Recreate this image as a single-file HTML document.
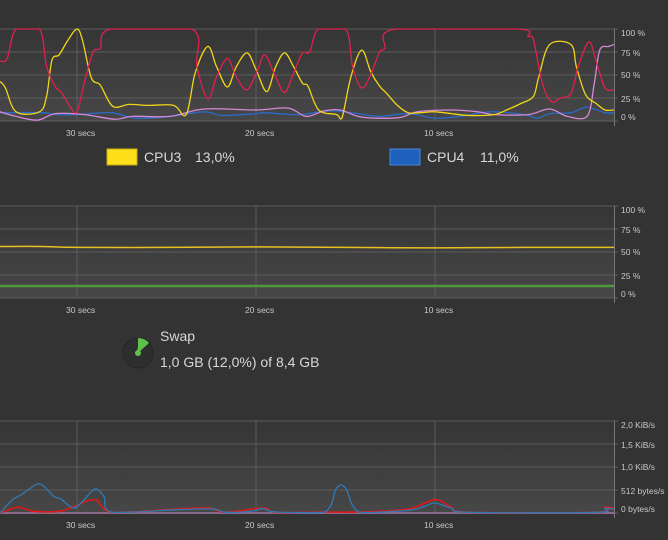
<!DOCTYPE html>
<html><head><meta charset="utf-8"><style>
html,body{margin:0;padding:0;background:#333333;width:668px;height:540px;overflow:hidden;font-family:"Liberation Sans",sans-serif;}
svg{position:absolute;left:0;top:0}
</style></head><body>
<svg id="s" width="668" height="540">
<defs><linearGradient id="g" x1="0" y1="0" x2="0" y2="1"><stop offset="0" stop-color="#353535"/><stop offset="1" stop-color="#474747"/></linearGradient></defs>
<g>
<rect x="107" y="149" width="30" height="16" fill="#fde01a" stroke="#c9ae10"/>
<text x="144" y="162" fill="#d8d8d8" font-size="14">CPU3</text>
<text x="195" y="162" fill="#d8d8d8" font-size="14">13,0%</text>
<rect x="390" y="149" width="30" height="16" fill="#1f62bd" stroke="#4a86d6"/>
<text x="427" y="162" fill="#d8d8d8" font-size="14">CPU4</text>
<text x="480" y="162" fill="#d8d8d8" font-size="14">11,0%</text>
</g>
<g>
<circle cx="138" cy="353" r="15" fill="#2e2e2e" stroke="#262626"/>
<path d="M138,353 L138,338 A15,15 0 0 1 149,343 Z" fill="#5ec24a"/>
<circle cx="138" cy="353" r="3" fill="#5ec24a"/>
<line x1="138" y1="353" x2="140" y2="339" stroke="#5ec24a" stroke-width="2"/>
<text x="160" y="341" fill="#d8d8d8" font-size="14">Swap</text>
<text x="160" y="367" fill="#d8d8d8" font-size="14">1,0 GB (12,0%) of 8,4 GB</text>
</g>
</svg>
<script>
// CPU chart data (t = seconds ago)
const cpuRedT=[34.3,33.9,33.4,32.1,31.7,31.2,30.9,30.4,30.0,29.6,29.1,28.7,28.1,23.6,23.3,22.7,22.2,21.6,21.1,20.5,19.9,19.5,18.9,18.4,17.9,17.4,17.0,16.5,15.0,14.6,14.1,13.6,13.1,12.8,12.2,5.4,4.8,4.5,4.0,3.5,3.0,2.4,2.0,1.4,1.0,0.5,0];
const cpuRedV=[65,68,100,100,59,37,32,16,10,41,75,79,100,100,59,24,48,68,48,34,56,72,48,31,52,74,75,100,100,59,36,50,75,79,100,100,92,88,41,21,25,30,59,86,65,36,34];
const cpuYellowT=[34.3,34.0,33.4,32.1,31.7,31.4,31.0,30.5,30.0,29.7,29.2,28.7,28.0,27.1,26.0,24.6,23.9,23.4,22.7,22.2,21.6,21.1,20.5,20.0,19.4,18.9,18.4,17.9,17.4,17.1,16.5,15.5,15.2,14.7,14.1,13.6,13.1,12.7,12.1,11.5,10.8,10.0,9.1,8.1,6.7,6.0,5.2,4.5,4.2,3.6,2.4,2.1,1.6,1.0,0.5,0];
const cpuYellowV=[43,36,10,10,27,66,72,88,100,88,47,39,16,18,17,17,7,52,81,59,37,59,74,56,32,59,74,59,41,38,12,7,3,48,77,54,38,30,17,9,9,10,8,6,7,12,19,27,48,83,83,59,29,19,12,12];
const cpuBlueT=[34.3,31.9,31.2,30.0,28.1,26.7,24.8,22.9,21.9,20.0,19.5,17.7,15.8,14.3,13.1,11.5,10.0,8.6,6.9,5.0,4.3,3.6,2.4,1.6,1.1,0.5,0];
const cpuBlueV=[9,9,7,7,9,3,5,10,6,8,9,7,11,8,5,8,3,5,10,7,3,8,9,15,13,9,9];
const cpuPinkT=[34.3,33.4,32.2,31.2,29.6,27.9,26.9,24.8,22.9,20.0,18.2,17.2,16.2,15.3,14.3,13.3,11.9,11.0,9.1,7.6,6.7,4.8,3.6,2.6,1.5,1.1,0.8,0.3,0];
const cpuPinkV=[10,5,1,8,7,2,5,5,13,12,14,5,11,12,5,3,4,10,12,10,7,7,13,5,5,41,77,81,83];
// Memory chart data
const memT=[34.3,32,30,25,20,15,10,5,0];
const memV=[56,56,55,55,55.5,55,54.5,55,55];
const swapT=[34.3,20,0];
const swapV=[13,13,13];
// Network chart data (bytes/s)
const netRecvT=[34.3,33.6,33.1,32.3,31.9,31.3,30.9,30.2,29.6,29.0,28.5,28.0,24.3,22.4,21.7,20.3,19.6,18.9,16.2,15.5,15.0,14.2,11.5,10.6,10.0,9.1,8.1,1.0,0.5,0];
const netRecvV=[0,297,408,631,609,371,312,111,297,534,371,15,74,89,15,37,96,22,15,557,557,15,59,148,223,111,15,15,104,89];
const netSendT=[34.3,33.3,32.4,31.0,30.2,29.0,28.0,24.3,22.6,21.7,19.6,18.9,16.2,14.2,11.5,10.0,9.1,8.1,1.0,0.5,0];
const netSendV=[0,126,37,37,134,297,15,89,111,15,111,15,22,22,89,297,134,15,15,134,104];
const pctTicks=["100 %","75 %","50 %","25 %","0 %"];
const netTicks=["2,0 KiB/s","1,5 KiB/s","1,0 KiB/s","512 bytes/s","0 bytes/s"];
const timeTicks=[30,20,10];
const timeLabels=["30 secs","20 secs","10 secs"];

const svg=document.getElementById('s');
const NS='http://www.w3.org/2000/svg';
const R=614, PX=17.9;
const xOf=t=>R-t*PX;
function mk(tag,attrs,parent){const e=document.createElementNS(NS,tag);for(const k in attrs)e.setAttribute(k,attrs[k]);(parent||svg).appendChild(e);return e;}
function path(pts,lo,hi){const cl=y=>Math.max(lo,Math.min(hi,y));
let d='M'+pts[0][0]+','+pts[0][1];for(let i=0;i<pts.length-1;i++){const p0=pts[i-1]||pts[i],p1=pts[i],p2=pts[i+1],p3=pts[i+2]||p2;
const c1=[p1[0]+(p2[0]-p0[0])/6,cl(p1[1]+(p2[1]-p0[1])/6)],c2=[p2[0]-(p3[0]-p1[0])/6,cl(p2[1]-(p3[1]-p1[1])/6)];
d+=' C'+c1[0].toFixed(1)+','+c1[1].toFixed(1)+' '+c2[0].toFixed(1)+','+c2[1].toFixed(1)+' '+p2[0].toFixed(1)+','+p2[1].toFixed(1);}return d;}
const labOff=[4,1,0,1,-4];
function chart(name,top,bottom,maxV,ticks,series){
  const g=mk('g',{});
  
  
  const bg=mk('rect',{x:0,y:top,width:R,height:bottom-top,fill:'url(#g)'},g);
  
  
  const yOf=v=>bottom-v/maxV*(bottom-top);
  ticks.forEach((lab,i)=>{const y=top+i*(bottom-top)/(ticks.length-1);
    mk('line',{x1:0,x2:R+4,y1:y,y2:y,stroke:'#5c5c5c','stroke-width':1},g);
    const t=mk('text',{x:R+7,y:y+3+labOff[i],fill:'#c8c8c8','font-size':8.5},g);t.textContent=lab;
    
    });
  timeTicks.forEach((tt,i)=>{const x=xOf(tt);
    mk('line',{x1:x,x2:x,y1:top,y2:bottom,stroke:'#5c5c5c'},g);
    const t=mk('text',{x:x-11,y:bottom+15,fill:'#c8c8c8','font-size':8.5},g);t.textContent=timeLabels[i];
    
    });
  mk('line',{x1:R+0.5,x2:R+0.5,y1:top,y2:bottom+5,stroke:'#777'},g);
  const cid='c'+top;
  const cp=mk('clipPath',{id:cid},g);mk('rect',{x:0,y:top-2,width:R,height:bottom-top+3},cp);
  series.forEach(s=>{const pts=s.t.map((t,i)=>[xOf(t),yOf(s.v[i])]);
    const p=mk('path',{d:path(pts,top,bottom),fill:'none',stroke:s.c,'stroke-width':s.w||1.3,'clip-path':'url(#'+cid+')'},g);
    
    });
}
chart('cpu-history-chart',29,121,100,pctTicks,[
 {t:cpuBlueT,v:cpuBlueV,c:'#2a6bc8',n:'cpu4-line'},
 {t:cpuPinkT,v:cpuPinkV,c:'#d58ad5',n:'cpu2-line'},
 {t:cpuYellowT,v:cpuYellowV,c:'#f2d516',n:'cpu3-line'},
 {t:cpuRedT,v:cpuRedV,c:'#e0204e',n:'cpu1-line'}]);
chart('memory-history-chart',206,298,100,pctTicks,[
 {t:memT,v:memV,c:'#e8c020',n:'memory-line',w:1.5},
 {t:swapT,v:swapV,c:'#4e9a3a',n:'swap-line',w:2.5}]);
chart('network-history-chart',421,513,2048,netTicks,[
 {t:[34.3,0],v:[0,0],c:'#8a6a8a',n:'baseline',w:2},
 {t:netSendT,v:netSendV,c:'#e01818',n:'sending-line',w:1.6},
 {t:netRecvT,v:netRecvV,c:'#2f7ab6',n:'receiving-line',w:1.3}]);
</script>
</body></html>
